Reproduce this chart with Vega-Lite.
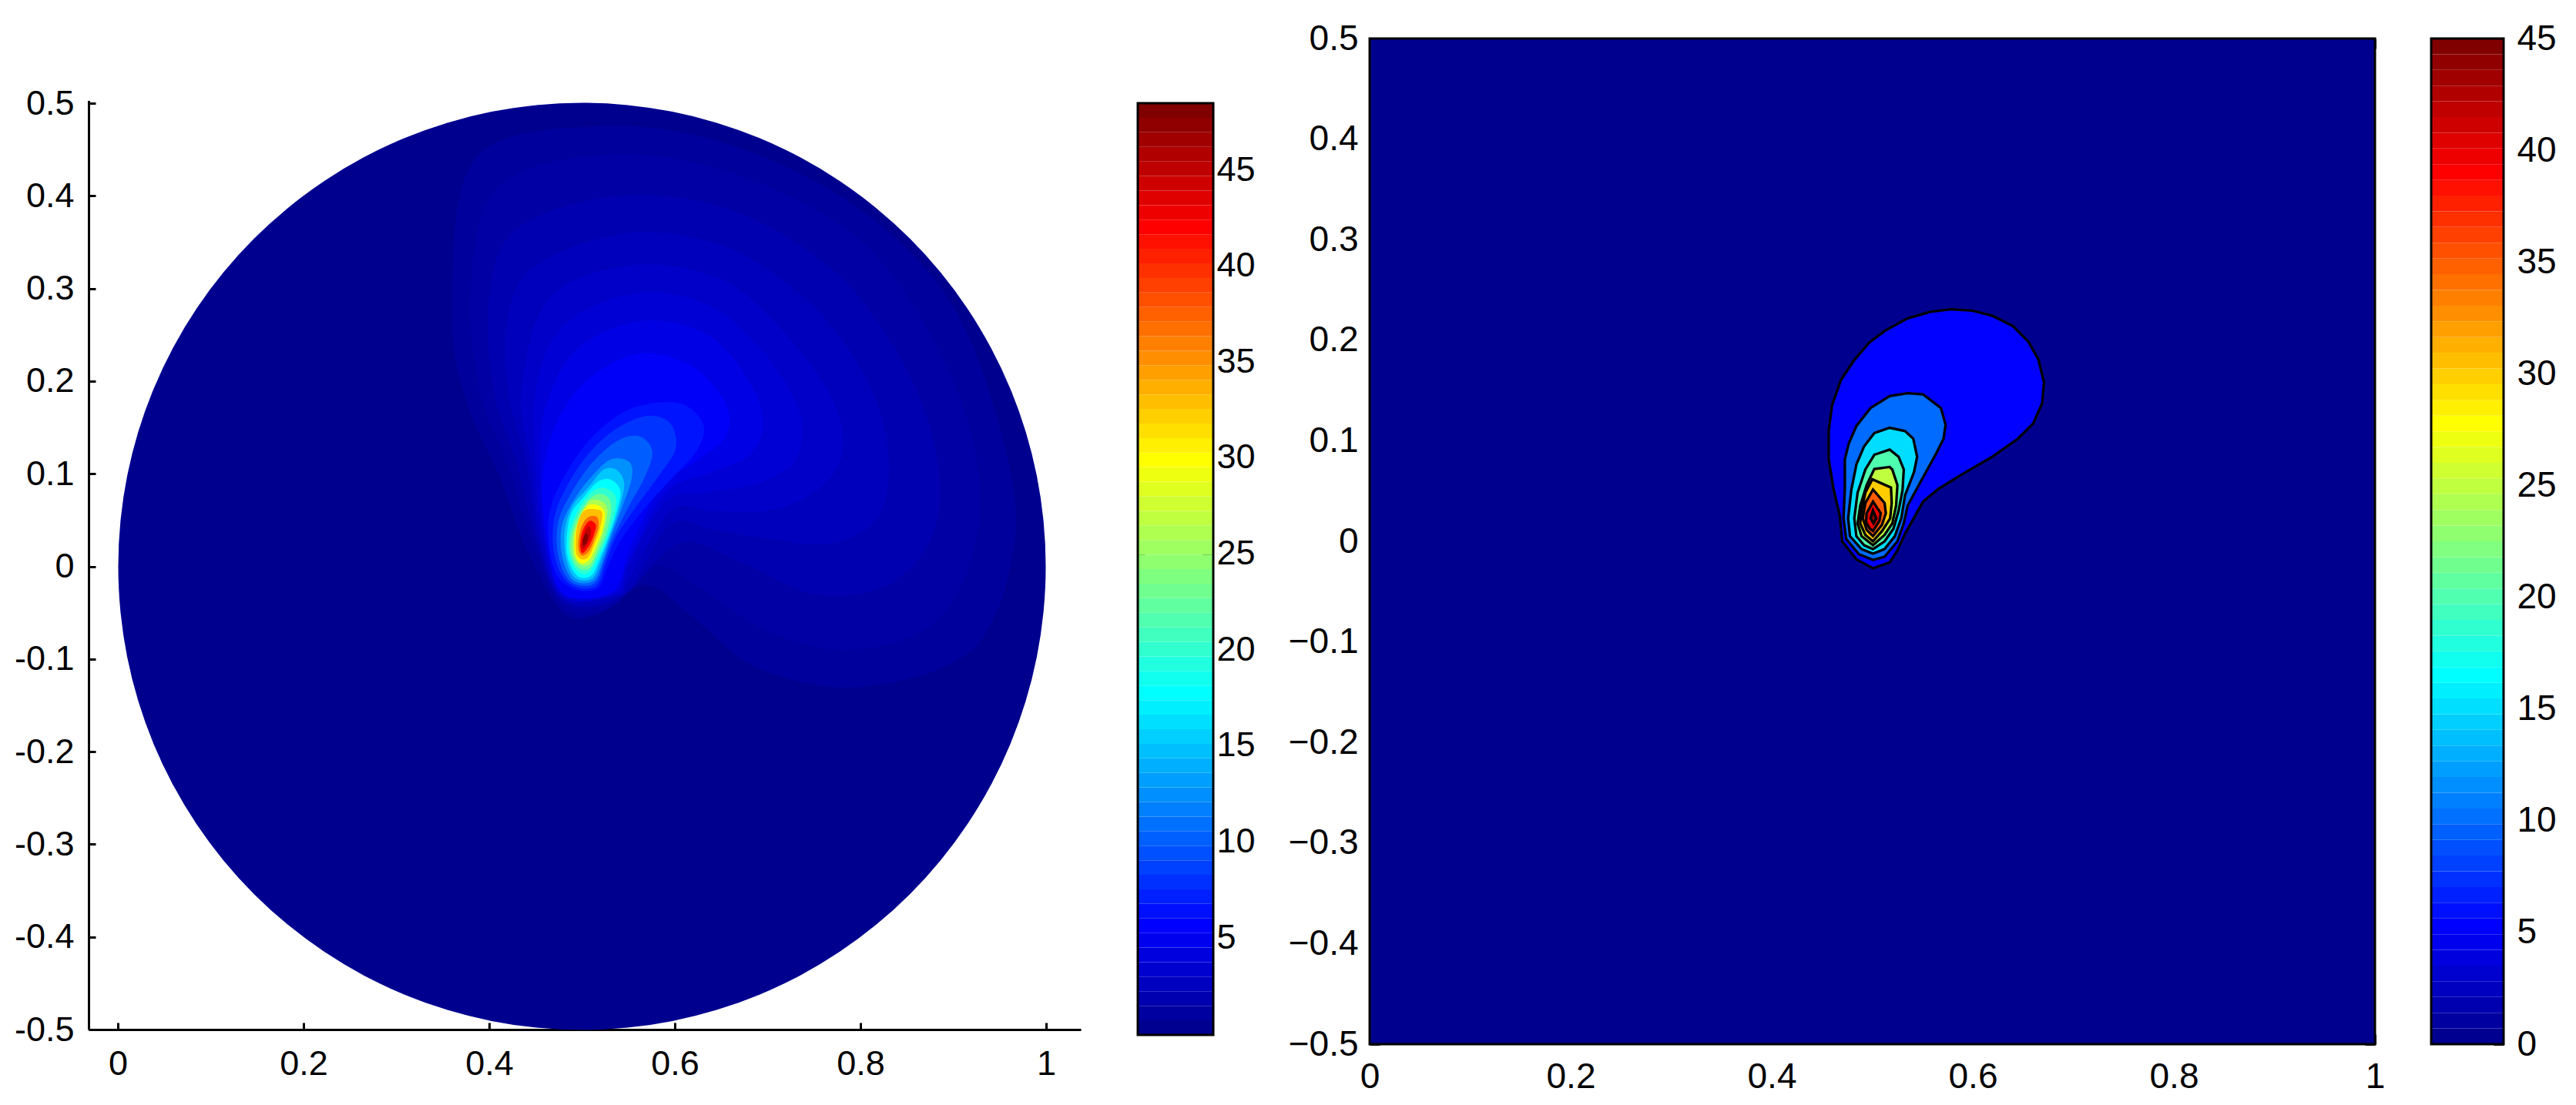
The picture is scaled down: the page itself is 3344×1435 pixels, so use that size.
{"$schema":"https://vega.github.io/schema/vega-lite/v6.json","width":3344,"height":1435,"padding":0,"autosize":{"type":"none"},"background":"white","config":{"view":{"stroke":null},"axis":{"grid":false,"title":null,"labelFont":"Liberation Sans","labelColor":"#000","labelFontSize":46,"tickColor":"#000","domainColor":"#000","tickWidth":3,"domainWidth":3,"labelOverlap":false,"labelFlush":false,"labelBound":false,"zindex":1}},"datasets":{
"haze":[
{"level":0.9,"x":0.385,"y":0.44},{"level":0.9,"x":0.52,"y":0.475},{"level":0.9,"x":0.66,"y":0.455},{"level":0.9,"x":0.8,"y":0.385},{"level":0.9,"x":0.9,"y":0.28},{"level":0.9,"x":0.955,"y":0.13},{"level":0.9,"x":0.965,"y":0.02},{"level":0.9,"x":0.92,"y":-0.09},{"level":0.9,"x":0.8,"y":-0.13},{"level":0.9,"x":0.69,"y":-0.11},{"level":0.9,"x":0.62,"y":-0.055},{"level":0.9,"x":0.57,"y":-0.02},{"level":0.9,"x":0.52,"y":-0.05},{"level":0.9,"x":0.48,"y":-0.05},{"level":0.9,"x":0.44,"y":0.02},{"level":0.9,"x":0.41,"y":0.1},{"level":0.9,"x":0.375,"y":0.18},{"level":0.9,"x":0.36,"y":0.28},
{"level":1.3,"x":0.41,"y":0.41},{"level":1.3,"x":0.53,"y":0.445},{"level":1.3,"x":0.66,"y":0.425},{"level":1.3,"x":0.79,"y":0.36},{"level":1.3,"x":0.87,"y":0.26},{"level":1.3,"x":0.92,"y":0.14},{"level":1.3,"x":0.925,"y":0.03},{"level":1.3,"x":0.88,"y":-0.06},{"level":1.3,"x":0.79,"y":-0.09},{"level":1.3,"x":0.7,"y":-0.07},{"level":1.3,"x":0.63,"y":-0.025},{"level":1.3,"x":0.58,"y":0},{"level":1.3,"x":0.53,"y":-0.045},{"level":1.3,"x":0.48,"y":-0.045},{"level":1.3,"x":0.445,"y":0.03},{"level":1.3,"x":0.42,"y":0.11},{"level":1.3,"x":0.39,"y":0.19},{"level":1.3,"x":0.38,"y":0.3},
{"level":1.8,"x":0.43,"y":0.365},{"level":1.8,"x":0.54,"y":0.4},{"level":1.8,"x":0.66,"y":0.385},{"level":1.8,"x":0.77,"y":0.32},{"level":1.8,"x":0.84,"y":0.23},{"level":1.8,"x":0.88,"y":0.13},{"level":1.8,"x":0.88,"y":0.04},{"level":1.8,"x":0.83,"y":-0.02},{"level":1.8,"x":0.75,"y":-0.03},{"level":1.8,"x":0.67,"y":0.005},{"level":1.8,"x":0.605,"y":0.025},{"level":1.8,"x":0.54,"y":-0.035},{"level":1.8,"x":0.48,"y":-0.04},{"level":1.8,"x":0.45,"y":0.03},{"level":1.8,"x":0.43,"y":0.11},{"level":1.8,"x":0.405,"y":0.19},{"level":1.8,"x":0.4,"y":0.29},
{"level":2.4,"x":0.45,"y":0.325},{"level":2.4,"x":0.55,"y":0.36},{"level":2.4,"x":0.655,"y":0.345},{"level":2.4,"x":0.745,"y":0.285},{"level":2.4,"x":0.805,"y":0.205},{"level":2.4,"x":0.83,"y":0.125},{"level":2.4,"x":0.82,"y":0.055},{"level":2.4,"x":0.77,"y":0.025},{"level":2.4,"x":0.7,"y":0.03},{"level":2.4,"x":0.64,"y":0.04},{"level":2.4,"x":0.595,"y":0.045},{"level":2.4,"x":0.545,"y":-0.03},{"level":2.4,"x":0.48,"y":-0.037},{"level":2.4,"x":0.452,"y":0.03},{"level":2.4,"x":0.44,"y":0.11},{"level":2.4,"x":0.42,"y":0.19},{"level":2.4,"x":0.42,"y":0.27},
{"level":3,"x":0.465,"y":0.29},{"level":3,"x":0.555,"y":0.325},{"level":3,"x":0.65,"y":0.31},{"level":3,"x":0.72,"y":0.25},{"level":3,"x":0.77,"y":0.18},{"level":3,"x":0.78,"y":0.12},{"level":3,"x":0.75,"y":0.08},{"level":3,"x":0.7,"y":0.06},{"level":3,"x":0.64,"y":0.06},{"level":3,"x":0.595,"y":0.06},{"level":3,"x":0.55,"y":-0.015},{"level":3,"x":0.54,"y":-0.03},{"level":3,"x":0.48,"y":-0.035},{"level":3,"x":0.455,"y":0.03},{"level":3,"x":0.445,"y":0.11},{"level":3,"x":0.435,"y":0.19},
{"level":3.6,"x":0.48,"y":0.26},{"level":3.6,"x":0.56,"y":0.295},{"level":3.6,"x":0.64,"y":0.28},{"level":3.6,"x":0.7,"y":0.225},{"level":3.6,"x":0.735,"y":0.165},{"level":3.6,"x":0.73,"y":0.115},{"level":3.6,"x":0.69,"y":0.09},{"level":3.6,"x":0.635,"y":0.08},{"level":3.6,"x":0.59,"y":0.07},{"level":3.6,"x":0.55,"y":0},{"level":3.6,"x":0.538,"y":-0.03},{"level":3.6,"x":0.48,"y":-0.033},{"level":3.6,"x":0.458,"y":0.03},{"level":3.6,"x":0.45,"y":0.11},{"level":3.6,"x":0.45,"y":0.19},
{"level":4.3,"x":0.495,"y":0.235},{"level":4.3,"x":0.565,"y":0.265},{"level":4.3,"x":0.635,"y":0.25},{"level":4.3,"x":0.68,"y":0.2},{"level":4.3,"x":0.695,"y":0.155},{"level":4.3,"x":0.68,"y":0.12},{"level":4.3,"x":0.635,"y":0.1},{"level":4.3,"x":0.59,"y":0.08},{"level":4.3,"x":0.55,"y":0.005},{"level":4.3,"x":0.535,"y":-0.028},{"level":4.3,"x":0.48,"y":-0.03},{"level":4.3,"x":0.46,"y":0.03},{"level":4.3,"x":0.455,"y":0.1},{"level":4.3,"x":0.46,"y":0.17},
{"level":5.3,"x":0.51,"y":0.205},{"level":5.3,"x":0.565,"y":0.23},{"level":5.3,"x":0.62,"y":0.215},{"level":5.3,"x":0.655,"y":0.175},{"level":5.3,"x":0.655,"y":0.14},{"level":5.3,"x":0.625,"y":0.115},{"level":5.3,"x":0.585,"y":0.085},{"level":5.3,"x":0.552,"y":0.02},{"level":5.3,"x":0.533,"y":-0.027},{"level":5.3,"x":0.48,"y":-0.03},{"level":5.3,"x":0.462,"y":0.03},{"level":5.3,"x":0.458,"y":0.1},{"level":5.3,"x":0.475,"y":0.16},
{"level":6.5,"x":0.4955,"y":-0.0258},{"level":6.5,"x":0.5177,"y":-0.023},{"level":6.5,"x":0.5287,"y":0.0019},{"level":6.5,"x":0.5426,"y":0.0296},{"level":6.5,"x":0.5675,"y":0.0628},{"level":6.5,"x":0.5952,"y":0.0933},{"level":6.5,"x":0.6229,"y":0.1238},{"level":6.5,"x":0.6312,"y":0.1515},{"level":6.5,"x":0.6118,"y":0.1736},{"level":6.5,"x":0.5786,"y":0.1764},{"level":6.5,"x":0.5426,"y":0.1653},{"level":6.5,"x":0.5066,"y":0.1349},{"level":6.5,"x":0.4789,"y":0.0933},{"level":6.5,"x":0.465,"y":0.0573},{"level":6.5,"x":0.465,"y":0.0185},{"level":6.5,"x":0.4747,"y":-0.012},
{"level":8,"x":0.4955,"y":-0.023},{"level":8,"x":0.5163,"y":-0.0203},{"level":8,"x":0.526,"y":0.0047},{"level":8,"x":0.5371,"y":0.0324},{"level":8,"x":0.5592,"y":0.0656},{"level":8,"x":0.5814,"y":0.0961},{"level":8,"x":0.6008,"y":0.1265},{"level":8,"x":0.5952,"y":0.1543},{"level":8,"x":0.5703,"y":0.1626},{"level":8,"x":0.5371,"y":0.1487},{"level":8,"x":0.5066,"y":0.121},{"level":8,"x":0.4844,"y":0.0878},{"level":8,"x":0.4706,"y":0.0545},{"level":8,"x":0.4692,"y":0.0185},{"level":8,"x":0.4789,"y":-0.0106},
{"level":10,"x":0.4955,"y":-0.0203},{"level":10,"x":0.5149,"y":-0.0175},{"level":10,"x":0.5246,"y":0.0074},{"level":10,"x":0.5343,"y":0.0324},{"level":10,"x":0.5509,"y":0.0656},{"level":10,"x":0.5675,"y":0.0961},{"level":10,"x":0.5758,"y":0.1238},{"level":10,"x":0.562,"y":0.1404},{"level":10,"x":0.5371,"y":0.1349},{"level":10,"x":0.5094,"y":0.1099},{"level":10,"x":0.4886,"y":0.0795},{"level":10,"x":0.4747,"y":0.049},{"level":10,"x":0.4733,"y":0.0185},{"level":10,"x":0.4817,"y":-0.0092},
{"level":12.5,"x":0.4955,"y":-0.0175},{"level":12.5,"x":0.5135,"y":-0.0147},{"level":12.5,"x":0.5232,"y":0.0074},{"level":12.5,"x":0.5315,"y":0.0324},{"level":12.5,"x":0.544,"y":0.0656},{"level":12.5,"x":0.5537,"y":0.0961},{"level":12.5,"x":0.5509,"y":0.1127},{"level":12.5,"x":0.5315,"y":0.1155},{"level":12.5,"x":0.5121,"y":0.0989},{"level":12.5,"x":0.4927,"y":0.0739},{"level":12.5,"x":0.4789,"y":0.0462},{"level":12.5,"x":0.4775,"y":0.0185},{"level":12.5,"x":0.4844,"y":-0.0064},
{"level":15,"x":0.4969,"y":-0.0147},{"level":15,"x":0.5121,"y":-0.012},{"level":15,"x":0.5218,"y":0.0102},{"level":15,"x":0.5301,"y":0.0324},{"level":15,"x":0.5412,"y":0.0656},{"level":15,"x":0.5454,"y":0.0905},{"level":15,"x":0.5371,"y":0.1044},{"level":15,"x":0.5232,"y":0.1044},{"level":15,"x":0.5066,"y":0.085},{"level":15,"x":0.49,"y":0.0656},{"level":15,"x":0.4817,"y":0.0407},{"level":15,"x":0.4817,"y":0.0157},{"level":15,"x":0.4872,"y":-0.005},
{"level":17.7,"x":0.4983,"y":-0.012},{"level":17.7,"x":0.5107,"y":-0.0092},{"level":17.7,"x":0.5204,"y":0.0116},{"level":17.7,"x":0.5287,"y":0.0324},{"level":17.7,"x":0.5384,"y":0.0628},{"level":17.7,"x":0.5412,"y":0.0822},{"level":17.7,"x":0.5315,"y":0.0933},{"level":17.7,"x":0.5177,"y":0.0919},{"level":17.7,"x":0.501,"y":0.0739},{"level":17.7,"x":0.4886,"y":0.0573},{"level":17.7,"x":0.4839,"y":0.0351},{"level":17.7,"x":0.4839,"y":0.013},{"level":17.7,"x":0.49,"y":-0.0036},
{"level":20,"x":0.4997,"y":-0.0078},{"level":20,"x":0.5094,"y":-0.005},{"level":20,"x":0.519,"y":0.013},{"level":20,"x":0.5274,"y":0.0324},{"level":20,"x":0.5357,"y":0.0601},{"level":20,"x":0.5357,"y":0.0767},{"level":20,"x":0.5232,"y":0.085},{"level":20,"x":0.5094,"y":0.0795},{"level":20,"x":0.4955,"y":0.0601},{"level":20,"x":0.4866,"y":0.0379},{"level":20,"x":0.4858,"y":0.0157},{"level":20,"x":0.4913,"y":-0.0009},
{"level":23,"x":0.501,"y":-0.0036},{"level":23,"x":0.5094,"y":-0.0009},{"level":23,"x":0.5177,"y":0.0157},{"level":23,"x":0.526,"y":0.0351},{"level":23,"x":0.5315,"y":0.0601},{"level":23,"x":0.5287,"y":0.0739},{"level":23,"x":0.5177,"y":0.0781},{"level":23,"x":0.5066,"y":0.0712},{"level":23,"x":0.4955,"y":0.0545},{"level":23,"x":0.4886,"y":0.0351},{"level":23,"x":0.4877,"y":0.0157},{"level":23,"x":0.4927,"y":0.0019},
{"level":26,"x":0.501,"y":0.0005},{"level":26,"x":0.5094,"y":0.0033},{"level":26,"x":0.5163,"y":0.0185},{"level":26,"x":0.5232,"y":0.0365},{"level":26,"x":0.5274,"y":0.0601},{"level":26,"x":0.5218,"y":0.0698},{"level":26,"x":0.5094,"y":0.0712},{"level":26,"x":0.4997,"y":0.0573},{"level":26,"x":0.4913,"y":0.0365},{"level":26,"x":0.49,"y":0.0157},{"level":26,"x":0.4941,"y":0.0047},
{"level":29.9,"x":0.501,"y":0.0033},{"level":29.9,"x":0.508,"y":0.0074},{"level":29.9,"x":0.5149,"y":0.0213},{"level":29.9,"x":0.5218,"y":0.0379},{"level":29.9,"x":0.5246,"y":0.0573},{"level":29.9,"x":0.5177,"y":0.0656},{"level":29.9,"x":0.5066,"y":0.0656},{"level":29.9,"x":0.4983,"y":0.0545},{"level":29.9,"x":0.4927,"y":0.0351},{"level":29.9,"x":0.4922,"y":0.0157},{"level":29.9,"x":0.4955,"y":0.0061},
{"level":33,"x":0.501,"y":0.0074},{"level":33,"x":0.508,"y":0.0116},{"level":33,"x":0.5135,"y":0.0241},{"level":33,"x":0.519,"y":0.0393},{"level":33,"x":0.5218,"y":0.0573},{"level":33,"x":0.5149,"y":0.0615},{"level":33,"x":0.5024,"y":0.0601},{"level":33,"x":0.4955,"y":0.0462},{"level":33,"x":0.4933,"y":0.0296},{"level":33,"x":0.4941,"y":0.013},
{"level":37,"x":0.501,"y":0.0116},{"level":37,"x":0.508,"y":0.0171},{"level":37,"x":0.5135,"y":0.0296},{"level":37,"x":0.5177,"y":0.0421},{"level":37,"x":0.5163,"y":0.0531},{"level":37,"x":0.5066,"y":0.0531},{"level":37,"x":0.4997,"y":0.0434},{"level":37,"x":0.4961,"y":0.0268},{"level":37,"x":0.4969,"y":0.0157},
{"level":42,"x":0.501,"y":0.0144},{"level":42,"x":0.508,"y":0.0227},{"level":42,"x":0.5127,"y":0.0338},{"level":42,"x":0.5149,"y":0.0448},{"level":42,"x":0.508,"y":0.049},{"level":42,"x":0.501,"y":0.0393},{"level":42,"x":0.4983,"y":0.0268},{"level":42,"x":0.4983,"y":0.0185},
{"level":45,"x":0.501,"y":0.0185},{"level":45,"x":0.5071,"y":0.0268},{"level":45,"x":0.5099,"y":0.0379},{"level":45,"x":0.5066,"y":0.0434},{"level":45,"x":0.5024,"y":0.0351},{"level":45,"x":0.4997,"y":0.0254},
{"level":48,"x":0.5016,"y":0.0227},{"level":48,"x":0.5052,"y":0.0268},{"level":48,"x":0.5066,"y":0.0338},{"level":48,"x":0.5038,"y":0.0351},{"level":48,"x":0.501,"y":0.0282}],
"contours":[
{"level":5.3,"x":0.5007,"y":-0.0268},{"level":5.3,"x":0.5173,"y":-0.021},{"level":5.3,"x":0.525,"y":-0.009},{"level":5.3,"x":0.5326,"y":0.0076},{"level":5.3,"x":0.5505,"y":0.0395},{"level":5.3,"x":0.5658,"y":0.0522},{"level":5.3,"x":0.5887,"y":0.0663},{"level":5.3,"x":0.6193,"y":0.0841},{"level":5.3,"x":0.6448,"y":0.102},{"level":5.3,"x":0.6601,"y":0.1173},{"level":5.3,"x":0.669,"y":0.1376},{"level":5.3,"x":0.6708,"y":0.1581},{"level":5.3,"x":0.6652,"y":0.181},{"level":5.3,"x":0.655,"y":0.1989},{"level":5.3,"x":0.6397,"y":0.2142},{"level":5.3,"x":0.6193,"y":0.2243},{"level":5.3,"x":0.5989,"y":0.2295},{"level":5.3,"x":0.5785,"y":0.2307},{"level":5.3,"x":0.5581,"y":0.2282},{"level":5.3,"x":0.5352,"y":0.2218},{"level":5.3,"x":0.5122,"y":0.2091},{"level":5.3,"x":0.4969,"y":0.1976},{"level":5.3,"x":0.4816,"y":0.1797},{"level":5.3,"x":0.4689,"y":0.1606},{"level":5.3,"x":0.4599,"y":0.1351},{"level":5.3,"x":0.4566,"y":0.1096},{"level":5.3,"x":0.4566,"y":0.0815},{"level":5.3,"x":0.4612,"y":0.0535},{"level":5.3,"x":0.4676,"y":0.0255},{"level":5.3,"x":0.4701,"y":0},{"level":5.3,"x":0.4842,"y":-0.0179},
{"level":10,"x":0.5007,"y":-0.0184},{"level":10,"x":0.5122,"y":-0.0154},{"level":10,"x":0.525,"y":0},{"level":10,"x":0.5313,"y":0.0178},{"level":10,"x":0.5352,"y":0.0356},{"level":10,"x":0.5505,"y":0.0637},{"level":10,"x":0.5632,"y":0.0867},{"level":10,"x":0.5709,"y":0.102},{"level":10,"x":0.5729,"y":0.116},{"level":10,"x":0.5683,"y":0.1325},{"level":10,"x":0.5505,"y":0.1461},{"level":10,"x":0.5352,"y":0.1473},{"level":10,"x":0.5173,"y":0.1445},{"level":10,"x":0.4982,"y":0.1325},{"level":10,"x":0.4842,"y":0.1147},{"level":10,"x":0.4765,"y":0.0969},{"level":10,"x":0.4727,"y":0.0815},{"level":10,"x":0.4727,"y":0.0535},{"level":10,"x":0.4714,"y":0.0229},{"level":10,"x":0.474,"y":0.0025},{"level":10,"x":0.4867,"y":-0.0128},
{"level":15,"x":0.5007,"y":-0.0123},{"level":15,"x":0.5122,"y":-0.0077},{"level":15,"x":0.5224,"y":0.0051},{"level":15,"x":0.5288,"y":0.0229},{"level":15,"x":0.5326,"y":0.0459},{"level":15,"x":0.5415,"y":0.0688},{"level":15,"x":0.5446,"y":0.0841},{"level":15,"x":0.5408,"y":0.102},{"level":15,"x":0.5326,"y":0.1096},{"level":15,"x":0.5173,"y":0.1129},{"level":15,"x":0.502,"y":0.1076},{"level":15,"x":0.4918,"y":0.0943},{"level":15,"x":0.4842,"y":0.0765},{"level":15,"x":0.4791,"y":0.051},{"level":15,"x":0.476,"y":0.0229},{"level":15,"x":0.4778,"y":0.0051},{"level":15,"x":0.4893,"y":-0.0077},
{"level":20,"x":0.5007,"y":-0.0077},{"level":20,"x":0.5122,"y":0},{"level":20,"x":0.5211,"y":0.0127},{"level":20,"x":0.5262,"y":0.0306},{"level":20,"x":0.5301,"y":0.051},{"level":20,"x":0.5313,"y":0.0714},{"level":20,"x":0.5262,"y":0.0841},{"level":20,"x":0.5173,"y":0.0912},{"level":20,"x":0.502,"y":0.0861},{"level":20,"x":0.4931,"y":0.0714},{"level":20,"x":0.4854,"y":0.0484},{"level":20,"x":0.4821,"y":0.0229},{"level":20,"x":0.4842,"y":0.0051},{"level":20,"x":0.4918,"y":-0.0039},
{"level":25,"x":0.5007,"y":-0.0039},{"level":25,"x":0.5122,"y":0.0063},{"level":25,"x":0.5199,"y":0.0178},{"level":25,"x":0.5237,"y":0.0356},{"level":25,"x":0.525,"y":0.056},{"level":25,"x":0.5199,"y":0.0714},{"level":25,"x":0.5173,"y":0.0739},{"level":25,"x":0.502,"y":0.0719},{"level":25,"x":0.4944,"y":0.056},{"level":25,"x":0.488,"y":0.0356},{"level":25,"x":0.4854,"y":0.0178},{"level":25,"x":0.4893,"y":0.0051},
{"level":30,"x":0.5007,"y":0},{"level":30,"x":0.5097,"y":0.0102},{"level":30,"x":0.5178,"y":0.0229},{"level":30,"x":0.5193,"y":0.0382},{"level":30,"x":0.5186,"y":0.0535},{"level":30,"x":0.5,"y":0.0617},{"level":30,"x":0.4931,"y":0.0484},{"level":30,"x":0.4893,"y":0.0306},{"level":30,"x":0.488,"y":0.0178},{"level":30,"x":0.4931,"y":0.0063},
{"level":35,"x":0.5007,"y":0.0051},{"level":35,"x":0.5097,"y":0.0165},{"level":35,"x":0.5135,"y":0.028},{"level":35,"x":0.5122,"y":0.0382},{"level":35,"x":0.5007,"y":0.0515},{"level":35,"x":0.4931,"y":0.0382},{"level":35,"x":0.4905,"y":0.0229},{"level":35,"x":0.4944,"y":0.0114},
{"level":40,"x":0.5007,"y":0.0102},{"level":40,"x":0.5071,"y":0.0204},{"level":40,"x":0.5084,"y":0.028},{"level":40,"x":0.5007,"y":0.0395},{"level":40,"x":0.4944,"y":0.028},{"level":40,"x":0.4938,"y":0.0191},{"level":40,"x":0.4974,"y":0.0127},
{"level":45,"x":0.5012,"y":0.0178},{"level":45,"x":0.504,"y":0.0229},{"level":45,"x":0.5007,"y":0.0306},{"level":45,"x":0.4982,"y":0.0229}],
"cbL":[{"lo":-0.09,"hi":0.668},{"lo":0.668,"hi":1.427},{"lo":1.427,"hi":2.185},{"lo":2.185,"hi":2.944},{"lo":2.944,"hi":3.702},{"lo":3.702,"hi":4.46},{"lo":4.46,"hi":5.219},{"lo":5.219,"hi":5.977},{"lo":5.977,"hi":6.736},{"lo":6.736,"hi":7.494},{"lo":7.494,"hi":8.252},{"lo":8.252,"hi":9.011},{"lo":9.011,"hi":9.769},{"lo":9.769,"hi":10.528},{"lo":10.528,"hi":11.286},{"lo":11.286,"hi":12.044},{"lo":12.044,"hi":12.803},{"lo":12.803,"hi":13.561},{"lo":13.561,"hi":14.32},{"lo":14.32,"hi":15.078},{"lo":15.078,"hi":15.836},{"lo":15.836,"hi":16.595},{"lo":16.595,"hi":17.353},{"lo":17.353,"hi":18.112},{"lo":18.112,"hi":18.87},{"lo":18.87,"hi":19.628},{"lo":19.628,"hi":20.387},{"lo":20.387,"hi":21.145},{"lo":21.145,"hi":21.904},{"lo":21.904,"hi":22.662},{"lo":22.662,"hi":23.42},{"lo":23.42,"hi":24.179},{"lo":24.179,"hi":24.937},{"lo":24.937,"hi":25.696},{"lo":25.696,"hi":26.454},{"lo":26.454,"hi":27.212},{"lo":27.212,"hi":27.971},{"lo":27.971,"hi":28.729},{"lo":28.729,"hi":29.488},{"lo":29.488,"hi":30.246},{"lo":30.246,"hi":31.004},{"lo":31.004,"hi":31.763},{"lo":31.763,"hi":32.521},{"lo":32.521,"hi":33.28},{"lo":33.28,"hi":34.038},{"lo":34.038,"hi":34.796},{"lo":34.796,"hi":35.555},{"lo":35.555,"hi":36.313},{"lo":36.313,"hi":37.072},{"lo":37.072,"hi":37.83},{"lo":37.83,"hi":38.588},{"lo":38.588,"hi":39.347},{"lo":39.347,"hi":40.105},{"lo":40.105,"hi":40.864},{"lo":40.864,"hi":41.622},{"lo":41.622,"hi":42.38},{"lo":42.38,"hi":43.139},{"lo":43.139,"hi":43.897},{"lo":43.897,"hi":44.656},{"lo":44.656,"hi":45.414},{"lo":45.414,"hi":46.172},{"lo":46.172,"hi":46.931},{"lo":46.931,"hi":47.689},{"lo":47.689,"hi":48.45}],
"cbR":[{"lo":0,"hi":0.703},{"lo":0.703,"hi":1.406},{"lo":1.406,"hi":2.109},{"lo":2.109,"hi":2.813},{"lo":2.813,"hi":3.516},{"lo":3.516,"hi":4.219},{"lo":4.219,"hi":4.922},{"lo":4.922,"hi":5.625},{"lo":5.625,"hi":6.328},{"lo":6.328,"hi":7.031},{"lo":7.031,"hi":7.734},{"lo":7.734,"hi":8.438},{"lo":8.438,"hi":9.141},{"lo":9.141,"hi":9.844},{"lo":9.844,"hi":10.547},{"lo":10.547,"hi":11.25},{"lo":11.25,"hi":11.953},{"lo":11.953,"hi":12.656},{"lo":12.656,"hi":13.359},{"lo":13.359,"hi":14.063},{"lo":14.063,"hi":14.766},{"lo":14.766,"hi":15.469},{"lo":15.469,"hi":16.172},{"lo":16.172,"hi":16.875},{"lo":16.875,"hi":17.578},{"lo":17.578,"hi":18.281},{"lo":18.281,"hi":18.984},{"lo":18.984,"hi":19.688},{"lo":19.688,"hi":20.391},{"lo":20.391,"hi":21.094},{"lo":21.094,"hi":21.797},{"lo":21.797,"hi":22.5},{"lo":22.5,"hi":23.203},{"lo":23.203,"hi":23.906},{"lo":23.906,"hi":24.609},{"lo":24.609,"hi":25.313},{"lo":25.313,"hi":26.016},{"lo":26.016,"hi":26.719},{"lo":26.719,"hi":27.422},{"lo":27.422,"hi":28.125},{"lo":28.125,"hi":28.828},{"lo":28.828,"hi":29.531},{"lo":29.531,"hi":30.234},{"lo":30.234,"hi":30.938},{"lo":30.938,"hi":31.641},{"lo":31.641,"hi":32.344},{"lo":32.344,"hi":33.047},{"lo":33.047,"hi":33.75},{"lo":33.75,"hi":34.453},{"lo":34.453,"hi":35.156},{"lo":35.156,"hi":35.859},{"lo":35.859,"hi":36.563},{"lo":36.563,"hi":37.266},{"lo":37.266,"hi":37.969},{"lo":37.969,"hi":38.672},{"lo":38.672,"hi":39.375},{"lo":39.375,"hi":40.078},{"lo":40.078,"hi":40.781},{"lo":40.781,"hi":41.484},{"lo":41.484,"hi":42.188},{"lo":42.188,"hi":42.891},{"lo":42.891,"hi":43.594},{"lo":43.594,"hi":44.297},{"lo":44.297,"hi":45}]
},
"resolve":{"scale":{"x":"independent","y":"independent","fill":"independent"},"axis":{"x":"independent","y":"independent"}},
"layer":[
{"data":{"values":[{"x":0.5,"y":0}]},"mark":{"type":"point","filled":true,"shape":"circle","size":1449616,"color":"#00008f","opacity":1,"strokeWidth":0},"encoding":{
"x":{"field":"x","type":"quantitative","scale":{"domain":[-0.0315,1.0373],"range":[115,1403],"nice":false,"zero":false},"axis":{"orient":"bottom","offset":-98,"values":[0,0.2,0.4,0.6,0.8,1],"tickSize":-9,"labelPadding":31,"labelFontSize":45,"format":"~g"}},
"y":{"field":"y","type":"quantitative","scale":{"domain":[-0.5,0.503],"range":[1337,130.4],"nice":false,"zero":false},"axis":{"orient":"left","offset":-115,"values":[-0.5,-0.4,-0.3,-0.2,-0.1,0,0.1,0.2,0.3,0.4,0.5],"tickSize":-9,"labelPadding":28,"labelFontSize":45,"labelExpr":"(datum.value<0?'-':'')+format(abs(datum.value),'~g')"}}}},
{"data":{"name":"haze"},"mark":{"type":"line","interpolate":"cardinal-closed","stroke":null,"strokeWidth":0},"encoding":{
"x":{"field":"x","type":"quantitative","scale":{"domain":[-0.0315,1.0373],"range":[115,1403],"nice":false,"zero":false},"axis":null},
"y":{"field":"y","type":"quantitative","scale":{"domain":[-0.5,0.503],"range":[1337,130.4],"nice":false,"zero":false},"axis":null},
"detail":{"field":"level"},"order":{"value":null},
"fill":{"field":"level","type":"quantitative","legend":null,"scale":{"domain":[0.29,5.6,17.7,29.9,42,48.1],"range":["#000090","#0000ff","#00ffff","#ffff00","#ff0000","#800000"],"interpolate":"rgb","clamp":true}}}},
{"data":{"name":"cbL"},"mark":{"type":"rect"},"encoding":{
"x":{"datum":0,"type":"quantitative","scale":{"domain":[0,1],"range":[1477,1575],"nice":false,"zero":false},"axis":null},"x2":{"datum":1},
"y":{"field":"lo","type":"quantitative","scale":{"domain":[-0.09,48.45],"range":[1344,134],"nice":false,"zero":false},"axis":{"orient":"right","offset":-1769,"domain":false,"values":[5,10,15,20,25,30,35,40,45],"tickSize":-15,"labelPadding":19,"labelFontSize":45}},"y2":{"field":"hi"},
"fill":{"field":"lo","type":"quantitative","legend":null,"scale":{"domain":[-0.09,5.219,17.353,29.488,41.622,47.689],"range":["#000090","#0000ff","#00ffff","#ffff00","#ff0000","#800000"],"interpolate":"rgb"}}}},
{"data":{"values":[{"x0":0,"x1":1,"y0":-0.09,"y1":48.45}]},"mark":{"type":"rect","fill":null,"stroke":"#000","strokeWidth":3},"encoding":{
"x":{"field":"x0","type":"quantitative","scale":{"domain":[0,1],"range":[1477,1575],"nice":false,"zero":false},"axis":null},"x2":{"field":"x1"},
"y":{"field":"y0","type":"quantitative","scale":{"domain":[-0.09,48.45],"range":[1344,134],"nice":false,"zero":false},"axis":{"orient":"left","offset":-1477,"domain":false,"labels":false,"values":[5,10,15,20,25,30,35,40,45],"tickSize":-9}},"y2":{"field":"y1"}}},
{"data":{"values":[{"x0":0,"x1":1,"y0":-0.5,"y1":0.5}]},"mark":{"type":"rect","fill":"#00008f","stroke":"#000","strokeWidth":3},"encoding":{
"x":{"field":"x0","type":"quantitative","scale":{"domain":[0,1],"range":[1778,3083],"nice":false,"zero":false},"axis":{"orient":"bottom","offset":-79,"domain":false,"values":[0,0.2,0.4,0.6,0.8,1],"tickSize":-13,"labelPadding":33,"format":"~g"}},"x2":{"field":"x1"},
"y":{"field":"y0","type":"quantitative","scale":{"domain":[-0.5,0.5],"range":[1356,50],"nice":false,"zero":false},"axis":{"orient":"left","offset":-1778,"domain":false,"values":[-0.5,-0.4,-0.3,-0.2,-0.1,0,0.1,0.2,0.3,0.4,0.5],"tickSize":-13,"labelPadding":28,"format":"~g"}},"y2":{"field":"y1"}}},
{"data":{"name":"contours"},"mark":{"type":"line","interpolate":"linear-closed","stroke":"#000","strokeWidth":3.3},"encoding":{
"x":{"field":"x","type":"quantitative","scale":{"domain":[0,1],"range":[1778,3083],"nice":false,"zero":false},"axis":null},
"y":{"field":"y","type":"quantitative","scale":{"domain":[-0.5,0.5],"range":[1356,50],"nice":false,"zero":false},"axis":null},
"detail":{"field":"level"},"order":{"value":null},
"fill":{"field":"level","type":"quantitative","legend":null,"scale":{"domain":[0.35,5.27,16.52,27.77,39.02,44.65],"range":["#000090","#0000ff","#00ffff","#ffff00","#ff0000","#800000"],"interpolate":"rgb","clamp":true}}}},
{"data":{"values":[{"x0":0,"x1":1,"y0":-0.5,"y1":0.5}]},"mark":{"type":"rect","fill":null,"stroke":null},"encoding":{
"x":{"field":"x0","type":"quantitative","scale":{"domain":[0,1],"range":[1778,3083],"nice":false,"zero":false},"axis":{"orient":"top","offset":-50,"domain":false,"labels":false,"values":[0,0.2,0.4,0.6,0.8,1],"tickSize":-13}},"x2":{"field":"x1"},
"y":{"field":"y0","type":"quantitative","scale":{"domain":[-0.5,0.5],"range":[1356,50],"nice":false,"zero":false},"axis":{"orient":"right","offset":-261,"domain":false,"labels":false,"values":[-0.5,-0.4,-0.3,-0.2,-0.1,0,0.1,0.2,0.3,0.4,0.5],"tickSize":-13}},"y2":{"field":"y1"}}},
{"data":{"name":"cbR"},"mark":{"type":"rect"},"encoding":{
"x":{"datum":0,"type":"quantitative","scale":{"domain":[0,1],"range":[3156,3250],"nice":false,"zero":false},"axis":null},"x2":{"datum":1},
"y":{"field":"lo","type":"quantitative","scale":{"domain":[0,45],"range":[1356,50],"nice":false,"zero":false},"axis":{"orient":"right","offset":-94,"domain":false,"values":[0,5,10,15,20,25,30,35,40,45],"tickSize":-13,"labelPadding":30}},"y2":{"field":"hi"},
"fill":{"field":"lo","type":"quantitative","legend":null,"scale":{"domain":[0,4.922,16.172,27.422,38.672,44.297],"range":["#000090","#0000ff","#00ffff","#ffff00","#ff0000","#800000"],"interpolate":"rgb"}}}},
{"data":{"values":[{"x0":0,"x1":1,"y0":0,"y1":45}]},"mark":{"type":"rect","fill":null,"stroke":"#000","strokeWidth":3},"encoding":{
"x":{"field":"x0","type":"quantitative","scale":{"domain":[0,1],"range":[3156,3250],"nice":false,"zero":false},"axis":null},"x2":{"field":"x1"},
"y":{"field":"y0","type":"quantitative","scale":{"domain":[0,45],"range":[1356,50],"nice":false,"zero":false},"axis":{"orient":"left","offset":-3156,"domain":false,"labels":false,"values":[5,10,15,20,25,30,35,40,45],"tickSize":-13}},"y2":{"field":"y1"}}}
]}
